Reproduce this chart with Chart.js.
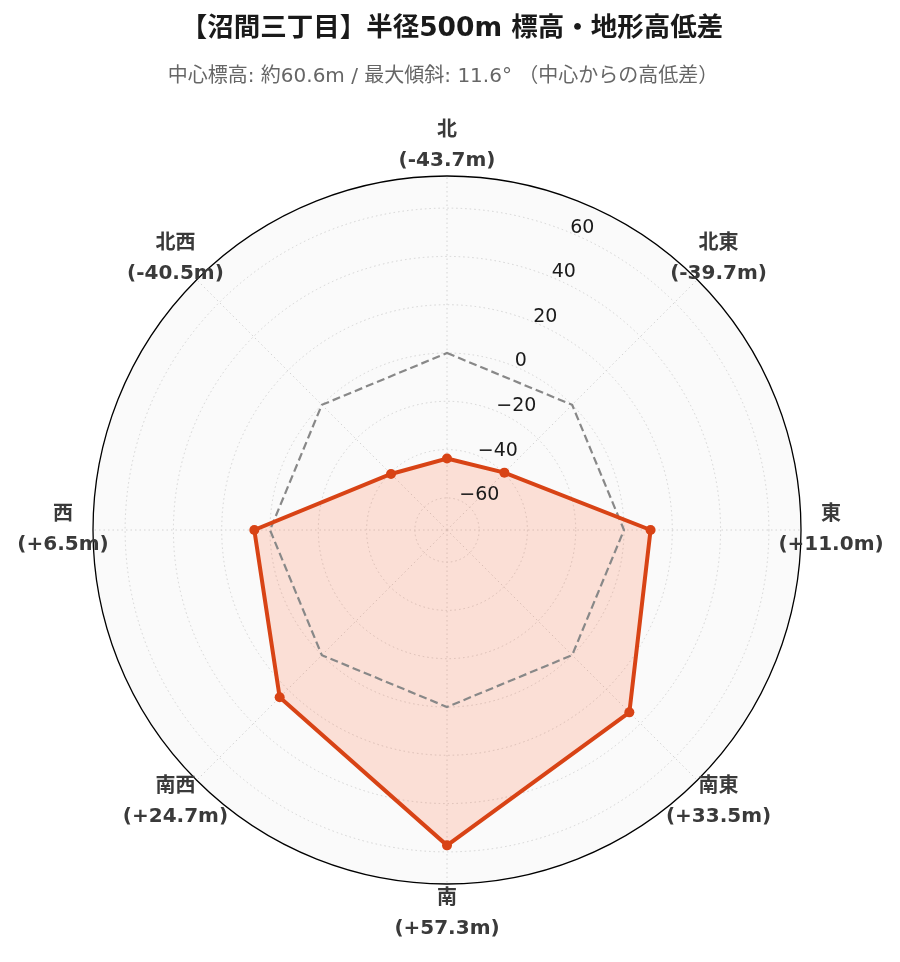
<!DOCTYPE html>
<html>
<head>
<meta charset="utf-8">
<script src="https://cdn.jsdelivr.net/npm/chart.js@4.4.1/dist/chart.umd.min.js"></script>
<style>
html,body{margin:0;padding:0;background:#fff;}
#wrap{width:900px;height:962px;position:relative;}
</style>
</head>
<body>
<div id="wrap"><canvas id="c" width="900" height="962"></canvas></div>
<script>
const titleText = '【沼間三丁目】半径500m 標高・地形高低差';
const subtitleText = '中心標高: 約60.6m / 最大傾斜: 11.6° （中心からの高低差）';
const directions = ['北', '北東', '東', '南東', '南', '南西', '西', '北西'];
const diffValues = [-43.7, -39.7, 11.0, 33.5, 57.3, 24.7, 6.5, -40.5];
const diffLabels = ['(-43.7m)', '(-39.7m)', '(+11.0m)', '(+33.5m)', '(+57.3m)', '(+24.7m)', '(+6.5m)', '(-40.5m)'];
const zeroValues = [0, 0, 0, 0, 0, 0, 0, 0];
const tickValues = [-60, -40, -20, 0, 20, 40, 60];
const tickLabels = ['−60', '−40', '−20', '0', '20', '40', '60'];
const rMin = -73.3;
const rMax = 73.3;

const FONT = '"DejaVu Sans", "Noto Sans CJK JP", sans-serif';

const overlay = {
  id: 'overlay',
  afterDraw(chart) {
    const ctx = chart.ctx;
    const s = chart.scales.r;
    ctx.save();
    // title
    ctx.textAlign = 'center';
    ctx.textBaseline = 'middle';
    ctx.fillStyle = '#1a1a1a';
    ctx.font = 'bold 26.5px ' + FONT;
    ctx.fillText(titleText, 452, 29);
    ctx.fillStyle = '#666666';
    ctx.font = '20px ' + FONT;
    ctx.fillText(subtitleText, 443, 77);
    // point labels
    ctx.fillStyle = '#3a3a3a';
    ctx.font = 'bold 20px ' + FONT;
    directions.forEach((d, i) => {
      const p = s.getPointPosition(i, s.drawingArea + 30);
      ctx.fillText(d, p.x, p.y - 15);
      ctx.fillText(diffLabels[i], p.x, p.y + 15);
    });
    // radial tick labels at 22.5deg
    ctx.textAlign = 'left';
    ctx.textBaseline = 'alphabetic';
    ctx.fillStyle = '#1a1a1a';
    ctx.font = '19px ' + FONT;
    const ang = 22.5 * Math.PI / 180;
    tickValues.forEach((v, i) => {
      const dist = s.getDistanceFromCenterForValue(v);
      const x = s.xCenter + dist * Math.sin(ang);
      const y = s.yCenter - dist * Math.cos(ang);
      ctx.fillText(tickLabels[i], x, y);
    });
    ctx.restore();
  }
};

new Chart(document.getElementById('c'), {
  type: 'radar',
  data: {
    labels: directions,
    datasets: [
      {
        data: diffValues,
        borderColor: '#d84315',
        borderWidth: 4,
        pointRadius: 5,
        pointBackgroundColor: '#d84315',
        pointBorderColor: '#d84315',
        pointBorderWidth: 0,
        fill: false,
        tension: 0
      },
      {
        data: zeroValues,
        borderColor: '#888888',
        borderWidth: 2.2,
        borderDash: [8, 4],
        pointRadius: 0,
        fill: false,
        tension: 0
      },
      {
        data: diffValues,
        borderWidth: 0,
        borderColor: 'rgba(0,0,0,0)',
        backgroundColor: 'rgba(255,87,34,0.17)',
        pointRadius: 0,
        fill: 'start',
        tension: 0
      }
    ]
  },
  options: {
    responsive: false,
    animation: false,
    layout: { padding: { left: 93, right: 99, top: 176, bottom: 78 } },
    plugins: {
      legend: { display: false },
      title: { display: false },
      tooltip: { enabled: false }
    },
    scales: {
      r: {
        min: rMin,
        max: rMax,
        backgroundColor: '#fafafa',
        afterBuildTicks(scale) {
          scale.ticks = tickValues.concat([rMax]).map(v => ({ value: v }));
        },
        ticks: { display: false },
        pointLabels: { display: false },
        grid: {
          circular: true,
          color: (c) => (c.tick && c.tick.value >= rMax - 0.01) ? '#000000' : '#d4d4d4',
          lineWidth: (c) => (c.tick && c.tick.value >= rMax - 0.01) ? 1.3 : 1
        },
        border: {
          dash: (c) => (c.tick && c.tick.value >= rMax - 0.01) ? [] : [1.5, 3]
        },
        angleLines: {
          color: '#d4d4d4',
          lineWidth: 1,
          borderDash: [1.5, 3]
        }
      }
    }
  },
  plugins: [overlay]
});
</script>
</body>
</html>
